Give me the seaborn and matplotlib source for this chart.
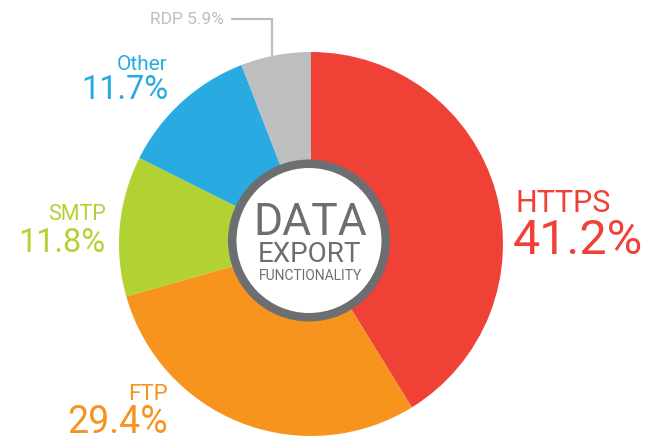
import matplotlib
matplotlib.use("Agg")
import matplotlib.pyplot as plt
import seaborn as sns
from matplotlib.patches import Circle

labels = ["HTTPS", "FTP", "SMTP", "Other", "RDP"]
values = [41.2, 29.4, 11.8, 11.7, 5.9]
colors = ["#f04137", "#f7941e", "#b2d234", "#29abe2", "#bcbec0"]
center_lines = ["DATA", "EXPORT", "FUNCTIONALITY"]

sns.set_theme(style="white")
plt.rcParams['font.family'] = ['Roboto', 'DejaVu Sans']

W, H = 652, 442
fig = plt.figure(figsize=(W / 100, H / 100), dpi=100)
ax = fig.add_axes([0, 0, 1, 1])

def Y(y):
    return H - y

pal = sns.color_palette(colors)
ax.pie(values, colors=pal, startangle=90, counterclock=False,
       center=(311, Y(244)), radius=192,
       wedgeprops=dict(linewidth=0))

# center ring
ax.add_patch(Circle((309, Y(240.5)), 81, facecolor="#6d6e71", edgecolor="none", zorder=5))
ax.add_patch(Circle((309, Y(240.5)), 72.5, facecolor="white", edgecolor="none", zorder=6))

cg = "#6d6e71"
ax.text(310, Y(223), center_lines[0], fontsize=32, color=cg, ha="center", va="center", zorder=7)
ax.text(310, Y(255), center_lines[1], fontsize=20, color=cg, ha="center", va="center", zorder=7)
ax.text(310, Y(276.5), center_lines[2], fontsize=10, color=cg, ha="center", va="center", zorder=7)

def pct(v):
    return f"{v}%"

# HTTPS
ax.text(515, Y(204), labels[0], fontsize=22, color=colors[0], ha="left", va="center")
ax.text(513, Y(241), pct(values[0]), fontsize=35, color=colors[0], ha="left", va="center")
# FTP
ax.text(168, Y(394), labels[1], fontsize=16, color=colors[1], ha="right", va="center")
ax.text(168, Y(441), pct(values[1]), fontsize=27, color=colors[1], ha="right", va="bottom")
# SMTP
ax.text(106, Y(215), labels[2], fontsize=15.5, color=colors[2], ha="right", va="center")
ax.text(105, Y(243), pct(values[2]), fontsize=23.5, color=colors[2], ha="right", va="center")
# Other
ax.text(168, Y(65), labels[3], fontsize=15, color=colors[3], ha="right", va="center")
ax.text(168, Y(90), pct(values[3]), fontsize=23.5, color=colors[3], ha="right", va="center")
# RDP with leader
ax.text(224, Y(20), f"{labels[4]} {pct(values[4])}", fontsize=12.5, color=colors[4],
        ha="right", va="center")
ax.plot([232, 272, 272], [Y(19), Y(19), Y(55)], color=colors[4], lw=1.6,
        solid_joinstyle="miter")

ax.set_xlim(0, W)
ax.set_ylim(0, H)
ax.set_aspect("equal")
ax.axis("off")

fig.savefig("out.png", dpi=100)
